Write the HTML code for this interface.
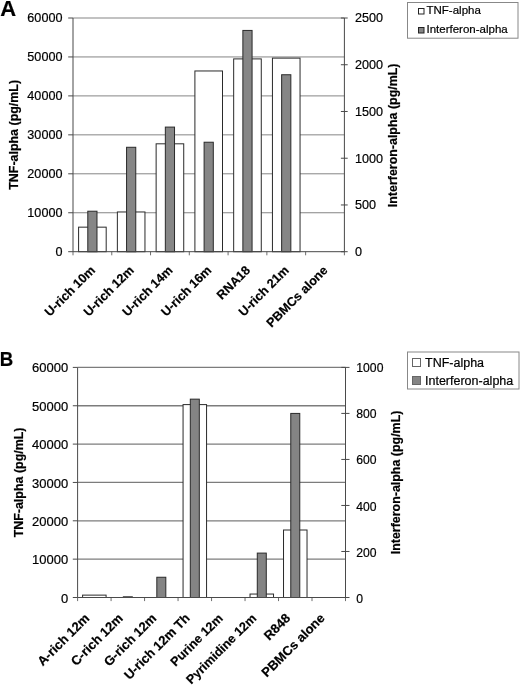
<!DOCTYPE html>
<html><head><meta charset="utf-8"><title>Figure</title>
<style>
html,body{margin:0;padding:0;background:#fff;}
svg{display:block;font-family:"Liberation Sans", sans-serif;fill:#000;}
svg text{fill:#000;stroke:#000;stroke-width:0.2px;}
</style></head><body>
<svg width="520" height="686" viewBox="0 0 520 686">
<rect x="0" y="0" width="520" height="686" fill="#fff"/>
<line x1="73" y1="212.75" x2="344.4" y2="212.75" stroke="#858585" stroke-width="1"/>
<line x1="73" y1="173.80" x2="344.4" y2="173.80" stroke="#858585" stroke-width="1"/>
<line x1="73" y1="134.85" x2="344.4" y2="134.85" stroke="#858585" stroke-width="1"/>
<line x1="73" y1="95.90" x2="344.4" y2="95.90" stroke="#858585" stroke-width="1"/>
<line x1="73" y1="56.95" x2="344.4" y2="56.95" stroke="#858585" stroke-width="1"/>
<line x1="73" y1="18.00" x2="344.4" y2="18.00" stroke="#858585" stroke-width="1"/>
<rect x="78.59" y="227.16" width="27.60" height="24.54" fill="#fff" stroke="#2a2a2a" stroke-width="1"/>
<rect x="87.79" y="211.22" width="9.20" height="40.48" fill="#868686" stroke="#2a2a2a" stroke-width="1"/>
<rect x="117.36" y="211.97" width="27.60" height="39.73" fill="#fff" stroke="#2a2a2a" stroke-width="1"/>
<rect x="126.56" y="147.28" width="9.20" height="104.42" fill="#868686" stroke="#2a2a2a" stroke-width="1"/>
<rect x="156.13" y="143.81" width="27.60" height="107.89" fill="#fff" stroke="#2a2a2a" stroke-width="1"/>
<rect x="165.33" y="127.09" width="9.20" height="124.61" fill="#868686" stroke="#2a2a2a" stroke-width="1"/>
<rect x="194.90" y="70.97" width="27.60" height="180.73" fill="#fff" stroke="#2a2a2a" stroke-width="1"/>
<rect x="204.10" y="142.23" width="9.20" height="109.47" fill="#868686" stroke="#2a2a2a" stroke-width="1"/>
<rect x="233.67" y="58.90" width="27.60" height="192.80" fill="#fff" stroke="#2a2a2a" stroke-width="1"/>
<rect x="242.87" y="30.43" width="9.20" height="221.27" fill="#868686" stroke="#2a2a2a" stroke-width="1"/>
<rect x="272.44" y="58.12" width="27.60" height="193.58" fill="#fff" stroke="#2a2a2a" stroke-width="1"/>
<rect x="281.64" y="74.74" width="9.20" height="176.96" fill="#868686" stroke="#2a2a2a" stroke-width="1"/>
<line x1="73" y1="18" x2="73" y2="251.7" stroke="#484848" stroke-width="1"/>
<line x1="344.4" y1="18" x2="344.4" y2="251.7" stroke="#484848" stroke-width="1"/>
<line x1="73" y1="251.7" x2="344.4" y2="251.7" stroke="#484848" stroke-width="1"/>
<line x1="68.2" y1="251.70" x2="73" y2="251.70" stroke="#484848" stroke-width="1"/>
<text transform="translate(62.4,256.14) scale(1,1)" font-size="12.6" text-anchor="end">0</text>
<line x1="68.2" y1="212.75" x2="73" y2="212.75" stroke="#484848" stroke-width="1"/>
<text transform="translate(62.4,217.19) scale(1,1)" font-size="12.6" text-anchor="end">10000</text>
<line x1="68.2" y1="173.80" x2="73" y2="173.80" stroke="#484848" stroke-width="1"/>
<text transform="translate(62.4,178.24) scale(1,1)" font-size="12.6" text-anchor="end">20000</text>
<line x1="68.2" y1="134.85" x2="73" y2="134.85" stroke="#484848" stroke-width="1"/>
<text transform="translate(62.4,139.29) scale(1,1)" font-size="12.6" text-anchor="end">30000</text>
<line x1="68.2" y1="95.90" x2="73" y2="95.90" stroke="#484848" stroke-width="1"/>
<text transform="translate(62.4,100.34) scale(1,1)" font-size="12.6" text-anchor="end">40000</text>
<line x1="68.2" y1="56.95" x2="73" y2="56.95" stroke="#484848" stroke-width="1"/>
<text transform="translate(62.4,61.39) scale(1,1)" font-size="12.6" text-anchor="end">50000</text>
<line x1="68.2" y1="18.00" x2="73" y2="18.00" stroke="#484848" stroke-width="1"/>
<text transform="translate(62.4,22.44) scale(1,1)" font-size="12.6" text-anchor="end">60000</text>
<line x1="340.9" y1="251.70" x2="347.7" y2="251.70" stroke="#484848" stroke-width="1"/>
<text transform="translate(355,256.14) scale(1,1)" font-size="12.6">0</text>
<line x1="340.9" y1="204.96" x2="347.7" y2="204.96" stroke="#484848" stroke-width="1"/>
<text transform="translate(355,209.40) scale(1,1)" font-size="12.6">500</text>
<line x1="340.9" y1="158.22" x2="347.7" y2="158.22" stroke="#484848" stroke-width="1"/>
<text transform="translate(355,162.66) scale(1,1)" font-size="12.6">1000</text>
<line x1="340.9" y1="111.48" x2="347.7" y2="111.48" stroke="#484848" stroke-width="1"/>
<text transform="translate(355,115.92) scale(1,1)" font-size="12.6">1500</text>
<line x1="340.9" y1="64.74" x2="347.7" y2="64.74" stroke="#484848" stroke-width="1"/>
<text transform="translate(355,69.18) scale(1,1)" font-size="12.6">2000</text>
<line x1="340.9" y1="18.00" x2="347.7" y2="18.00" stroke="#484848" stroke-width="1"/>
<text transform="translate(355,22.44) scale(1,1)" font-size="12.6">2500</text>
<line x1="73.00" y1="251.7" x2="73.00" y2="255.29999999999998" stroke="#484848" stroke-opacity="0.8" stroke-width="1"/>
<line x1="111.77" y1="251.7" x2="111.77" y2="255.29999999999998" stroke="#484848" stroke-opacity="0.8" stroke-width="1"/>
<line x1="150.54" y1="251.7" x2="150.54" y2="255.29999999999998" stroke="#484848" stroke-opacity="0.8" stroke-width="1"/>
<line x1="189.31" y1="251.7" x2="189.31" y2="255.29999999999998" stroke="#484848" stroke-opacity="0.8" stroke-width="1"/>
<line x1="228.09" y1="251.7" x2="228.09" y2="255.29999999999998" stroke="#484848" stroke-opacity="0.8" stroke-width="1"/>
<line x1="266.86" y1="251.7" x2="266.86" y2="255.29999999999998" stroke="#484848" stroke-opacity="0.8" stroke-width="1"/>
<line x1="305.63" y1="251.7" x2="305.63" y2="255.29999999999998" stroke="#484848" stroke-opacity="0.8" stroke-width="1"/>
<line x1="344.40" y1="251.7" x2="344.40" y2="255.29999999999998" stroke="#484848" stroke-opacity="0.8" stroke-width="1"/>
<text transform="translate(95.89,271.00) rotate(-45)" font-size="12.6" font-weight="bold" text-anchor="end">U-rich 10m</text>
<text transform="translate(134.66,271.00) rotate(-45)" font-size="12.6" font-weight="bold" text-anchor="end">U-rich 12m</text>
<text transform="translate(173.43,271.00) rotate(-45)" font-size="12.6" font-weight="bold" text-anchor="end">U-rich 14m</text>
<text transform="translate(212.20,271.00) rotate(-45)" font-size="12.6" font-weight="bold" text-anchor="end">U-rich 16m</text>
<text transform="translate(250.97,271.00) rotate(-45)" font-size="12.6" font-weight="bold" text-anchor="end">RNA18</text>
<text transform="translate(289.74,271.00) rotate(-45)" font-size="12.6" font-weight="bold" text-anchor="end">U-rich 21m</text>
<text transform="translate(328.51,271.00) rotate(-45)" font-size="12.6" font-weight="bold" text-anchor="end">PBMCs alone</text>
<text transform="translate(18.3,134.85) rotate(-90)" font-size="12.45" font-weight="bold" text-anchor="middle">TNF-alpha (pg/mL)</text>
<text transform="translate(397.3,135.35) rotate(-90)" font-size="12.45" font-weight="bold" text-anchor="middle">Interferon-alpha (pg/mL)</text>
<text transform="translate(0.2,15.8) scale(1.033,1)" font-size="21.3" font-weight="bold">A</text>
<rect x="407.5" y="2.5" width="110.5" height="35.7" fill="#fff" stroke="#888" stroke-width="1"/>
<rect x="418.5" y="8.5" width="5.5" height="5.5" fill="#fff" stroke="#222" stroke-width="1"/>
<rect x="418.5" y="27.5" width="5.5" height="5.5" fill="#868686" stroke="#222" stroke-width="1"/>
<text x="426.5" y="14" font-size="11.5">TNF-alpha</text>
<text x="426.5" y="33" font-size="11.5">Interferon-alpha</text>
<line x1="77.6" y1="559.15" x2="345.5" y2="559.15" stroke="#7c7c7c" stroke-width="1.3"/>
<line x1="77.6" y1="520.80" x2="345.5" y2="520.80" stroke="#7c7c7c" stroke-width="1.3"/>
<line x1="77.6" y1="482.45" x2="345.5" y2="482.45" stroke="#7c7c7c" stroke-width="1.3"/>
<line x1="77.6" y1="444.10" x2="345.5" y2="444.10" stroke="#7c7c7c" stroke-width="1.3"/>
<line x1="77.6" y1="405.75" x2="345.5" y2="405.75" stroke="#7c7c7c" stroke-width="1.3"/>
<line x1="77.6" y1="367.40" x2="345.5" y2="367.40" stroke="#7c7c7c" stroke-width="1.3"/>
<rect x="82.59" y="595.12" width="23.50" height="2.38" fill="#fff" stroke="#2a2a2a" stroke-width="1"/>
<rect x="123.33" y="596.81" width="9.00" height="0.69" fill="#848484" stroke="#2a2a2a" stroke-width="1"/>
<rect x="156.82" y="577.25" width="9.00" height="20.25" fill="#848484" stroke="#2a2a2a" stroke-width="1"/>
<rect x="183.06" y="404.60" width="23.50" height="192.90" fill="#fff" stroke="#2a2a2a" stroke-width="1"/>
<rect x="190.31" y="399.15" width="9.00" height="198.35" fill="#848484" stroke="#2a2a2a" stroke-width="1"/>
<rect x="250.03" y="594.05" width="23.50" height="3.45" fill="#fff" stroke="#2a2a2a" stroke-width="1"/>
<rect x="257.28" y="553.09" width="9.00" height="44.41" fill="#848484" stroke="#2a2a2a" stroke-width="1"/>
<rect x="283.52" y="530.00" width="23.50" height="67.50" fill="#fff" stroke="#2a2a2a" stroke-width="1"/>
<rect x="290.77" y="413.42" width="9.00" height="184.08" fill="#848484" stroke="#2a2a2a" stroke-width="1"/>
<line x1="77.6" y1="367.4" x2="77.6" y2="597.5" stroke="#4a4a4a" stroke-width="1"/>
<line x1="345.5" y1="367.4" x2="345.5" y2="597.5" stroke="#4a4a4a" stroke-width="1"/>
<line x1="77.6" y1="597.5" x2="345.5" y2="597.5" stroke="#4a4a4a" stroke-width="1"/>
<line x1="72.8" y1="597.50" x2="77.6" y2="597.50" stroke="#4a4a4a" stroke-width="1"/>
<text transform="translate(68.2,602.55) scale(0.985,1)" font-size="13.2" text-anchor="end">0</text>
<line x1="72.8" y1="559.15" x2="77.6" y2="559.15" stroke="#4a4a4a" stroke-width="1"/>
<text transform="translate(68.2,564.20) scale(0.985,1)" font-size="13.2" text-anchor="end">10000</text>
<line x1="72.8" y1="520.80" x2="77.6" y2="520.80" stroke="#4a4a4a" stroke-width="1"/>
<text transform="translate(68.2,525.85) scale(0.985,1)" font-size="13.2" text-anchor="end">20000</text>
<line x1="72.8" y1="482.45" x2="77.6" y2="482.45" stroke="#4a4a4a" stroke-width="1"/>
<text transform="translate(68.2,487.50) scale(0.985,1)" font-size="13.2" text-anchor="end">30000</text>
<line x1="72.8" y1="444.10" x2="77.6" y2="444.10" stroke="#4a4a4a" stroke-width="1"/>
<text transform="translate(68.2,449.15) scale(0.985,1)" font-size="13.2" text-anchor="end">40000</text>
<line x1="72.8" y1="405.75" x2="77.6" y2="405.75" stroke="#4a4a4a" stroke-width="1"/>
<text transform="translate(68.2,410.80) scale(0.985,1)" font-size="13.2" text-anchor="end">50000</text>
<line x1="72.8" y1="367.40" x2="77.6" y2="367.40" stroke="#4a4a4a" stroke-width="1"/>
<text transform="translate(68.2,372.45) scale(0.985,1)" font-size="13.2" text-anchor="end">60000</text>
<line x1="341.3" y1="597.50" x2="349.5" y2="597.50" stroke="#4a4a4a" stroke-width="1"/>
<text transform="translate(356.3,602.55) scale(0.925,1)" font-size="13.2">0</text>
<line x1="341.3" y1="551.48" x2="349.5" y2="551.48" stroke="#4a4a4a" stroke-width="1"/>
<text transform="translate(356.3,556.53) scale(0.925,1)" font-size="13.2">200</text>
<line x1="341.3" y1="505.46" x2="349.5" y2="505.46" stroke="#4a4a4a" stroke-width="1"/>
<text transform="translate(356.3,510.51) scale(0.925,1)" font-size="13.2">400</text>
<line x1="341.3" y1="459.44" x2="349.5" y2="459.44" stroke="#4a4a4a" stroke-width="1"/>
<text transform="translate(356.3,464.49) scale(0.925,1)" font-size="13.2">600</text>
<line x1="341.3" y1="413.42" x2="349.5" y2="413.42" stroke="#4a4a4a" stroke-width="1"/>
<text transform="translate(356.3,418.47) scale(0.925,1)" font-size="13.2">800</text>
<line x1="341.3" y1="367.40" x2="349.5" y2="367.40" stroke="#4a4a4a" stroke-width="1"/>
<text transform="translate(356.3,372.45) scale(0.925,1)" font-size="13.2">1000</text>
<line x1="77.60" y1="597.5" x2="77.60" y2="601.1" stroke="#4a4a4a" stroke-opacity="0.8" stroke-width="1"/>
<line x1="111.09" y1="597.5" x2="111.09" y2="601.1" stroke="#4a4a4a" stroke-opacity="0.8" stroke-width="1"/>
<line x1="144.57" y1="597.5" x2="144.57" y2="601.1" stroke="#4a4a4a" stroke-opacity="0.8" stroke-width="1"/>
<line x1="178.06" y1="597.5" x2="178.06" y2="601.1" stroke="#4a4a4a" stroke-opacity="0.8" stroke-width="1"/>
<line x1="211.55" y1="597.5" x2="211.55" y2="601.1" stroke="#4a4a4a" stroke-opacity="0.8" stroke-width="1"/>
<line x1="245.04" y1="597.5" x2="245.04" y2="601.1" stroke="#4a4a4a" stroke-opacity="0.8" stroke-width="1"/>
<line x1="278.52" y1="597.5" x2="278.52" y2="601.1" stroke="#4a4a4a" stroke-opacity="0.8" stroke-width="1"/>
<line x1="312.01" y1="597.5" x2="312.01" y2="601.1" stroke="#4a4a4a" stroke-opacity="0.8" stroke-width="1"/>
<line x1="345.50" y1="597.5" x2="345.50" y2="601.1" stroke="#4a4a4a" stroke-opacity="0.8" stroke-width="1"/>
<text transform="translate(90.24,619.00) rotate(-45)" font-size="13" font-weight="bold" text-anchor="end">A-rich 12m</text>
<text transform="translate(123.73,619.00) rotate(-45)" font-size="13" font-weight="bold" text-anchor="end">C-rich 12m</text>
<text transform="translate(157.22,619.00) rotate(-45)" font-size="13" font-weight="bold" text-anchor="end">G-rich 12m</text>
<text transform="translate(190.71,619.00) rotate(-45)" font-size="13" font-weight="bold" text-anchor="end">U-rich 12m Th</text>
<text transform="translate(223.59,619.00) rotate(-45)" font-size="12.6" font-weight="bold" text-anchor="end">Purine 12m</text>
<text transform="translate(257.08,619.00) rotate(-45)" font-size="12.6" font-weight="bold" text-anchor="end">Pyrimidine 12m</text>
<text transform="translate(291.17,619.00) rotate(-45)" font-size="13" font-weight="bold" text-anchor="end">R848</text>
<text transform="translate(325.56,619.00) rotate(-45)" font-size="13" font-weight="bold" text-anchor="end">PBMCs alone</text>
<text transform="translate(23,482.45) rotate(-90)" font-size="12.45" font-weight="bold" text-anchor="middle">TNF-alpha (pg/mL)</text>
<text transform="translate(399.5,482.45) rotate(-90)" font-size="12.45" font-weight="bold" text-anchor="middle">Interferon-alpha (pg/mL)</text>
<text transform="translate(-0.2,365.9) scale(0.925,1)" font-size="20.2" font-weight="bold">B</text>
<rect x="407.5" y="352" width="111.5" height="37" fill="#fff" stroke="#888" stroke-width="1"/>
<rect x="412.5" y="358.5" width="8" height="8" fill="#fff" stroke="#666" stroke-width="1"/>
<rect x="412.5" y="376.5" width="8" height="8" fill="#848484" stroke="#666" stroke-width="1"/>
<text x="425" y="366.5" font-size="12.5">TNF-alpha</text>
<text x="425" y="384.5" font-size="12.5">Interferon-alpha</text>
</svg>
</body></html>
